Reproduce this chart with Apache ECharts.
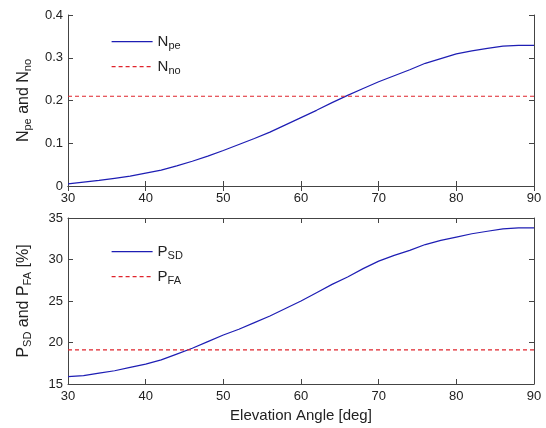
<!DOCTYPE html>
<html><head><meta charset="utf-8">
<script src="https://cdn.jsdelivr.net/npm/echarts@6/dist/echarts.min.js"></script>
<style>html,body{margin:0;padding:0;background:#fff}#c{width:546px;height:428px}</style>
</head><body><div id="c"></div>
<script>
const angles = [30,32,34,36,38,40,42,44,46,48,50,52,54,56,58,60,62,64,66,68,70,72,74,76,78,80,82,84,86,88,90];
const nPe = [0.005,0.009,0.013,0.018,0.023,0.030,0.037,0.047,0.058,0.070,0.083,0.097,0.111,0.126,0.143,0.160,0.177,0.195,0.212,0.228,0.244,0.258,0.272,0.287,0.298,0.309,0.316,0.322,0.327,0.329,0.329];
const nNo = 0.21;
const pSd = [15.9,16.0,16.3,16.6,17.0,17.4,17.9,18.6,19.3,20.1,20.9,21.6,22.4,23.2,24.1,25.0,26.0,27.0,27.9,28.9,29.8,30.5,31.1,31.8,32.3,32.7,33.1,33.4,33.7,33.8,33.8];
const pFa = 19.1;
const xTicks = [30,40,50,60,70,80,90];

const chart = echarts.init(document.getElementById('c'), null, {renderer:'canvas'});
const FONT = 'Liberation Sans, Arial, sans-serif';
const frame = '#444';
const rich = {
  b: {fontSize: 16, fontFamily: FONT, color: '#222'},
  s: {fontSize: 11, fontFamily: FONT, color: '#222', padding: [8,0,0,0]},
  lb: {fontSize: 15, fontFamily: FONT, color: '#222'},
  ls: {fontSize: 11, fontFamily: FONT, color: '#222', padding: [8,0,0,0]}
};
function xAx(gi, pos, labels, name) {
  return {type:'value', gridIndex: gi, position: pos, min:30, max:90, interval:10,
    axisLine:{show:true, lineStyle:{color:frame, width:1}},
    axisTick:{show:true, inside:true, length:5, lineStyle:{color:frame}},
    axisLabel:{show:labels, color:'#222', fontSize:13, fontFamily:FONT, margin:6},
    splitLine:{show:false},
    name: name || '', nameLocation:'middle', nameGap: 24,
    nameTextStyle:{fontSize:15, fontFamily:FONT, color:'#222'}};
}
function yAx(gi, pos, min, max, interval, labels, name, fmt) {
  return {type:'value', gridIndex: gi, position: pos, min, max, interval,
    axisLine:{show:true, lineStyle:{color:frame, width:1}},
    axisTick:{show:true, inside:true, length:5, lineStyle:{color:frame}},
    axisLabel:{show:labels, color:'#222', fontSize:13, fontFamily:FONT, margin:5, formatter: fmt},
    splitLine:{show:false},
    name: name || '', nameLocation:'middle', nameGap: 35, nameRotate: 90,
    nameTextStyle:{rich: rich}};
}
const blue = '#1e1eb4', red = '#e0242c';
const legendNames = {Npe:'{lb|N}{ls|pe}', Nno:'{lb|N}{ls|no}', PSD:'{lb|P}{ls|SD}', PFA:'{lb|P}{ls|FA}'};
const legendBase = {orient:'vertical', itemGap:8, itemWidth:41, itemHeight:19,
  itemStyle:{opacity:0}, lineStyle:{width:1.2}, formatter: n => legendNames[n], textStyle:{rich: rich}};
chart.setOption({
  animation:false,
  backgroundColor:'#fff',
  grid:[
    {left:68, right:12, top:15, height:171, show:false},
    {left:68, right:12, top:218, height:166, show:false}
  ],
  xAxis:[
    xAx(0,'bottom',true), xAx(0,'top',false),
    xAx(1,'bottom',true,'Elevation Angle [deg]'), xAx(1,'top',false)
  ],
  yAxis:[
    yAx(0,'left',0,0.4,0.1,true,'{b|N}{s|pe}{b| and N}{s|no}', v => v===0?'0':v.toFixed(1)),
    yAx(0,'right',0,0.4,0.1,false),
    yAx(1,'left',15,35,5,true,'{b|P}{s|SD}{b| and P}{s|FA}{b| [%]}'),
    yAx(1,'right',15,35,5,false)
  ],
  legend:[
    Object.assign({data:['Npe','Nno'], left:106, top:29}, legendBase),
    Object.assign({data:['PSD','PFA'], left:106, top:239}, legendBase)
  ],
  series:[
    {name:'Npe', type:'line', xAxisIndex:0, yAxisIndex:0, showSymbol:false, symbol:'none',
     data: angles.map((a,i)=>[a,nPe[i]]), lineStyle:{color:blue, width:1.2}, itemStyle:{color:blue}},
    {name:'Nno', type:'line', xAxisIndex:0, yAxisIndex:0, showSymbol:false, symbol:'none',
     data: angles.map(a=>[a,nNo]), lineStyle:{color:red, width:1.2, type:[4,3]}, itemStyle:{color:red}},
    {name:'PSD', type:'line', xAxisIndex:2, yAxisIndex:2, showSymbol:false, symbol:'none',
     data: angles.map((a,i)=>[a,pSd[i]]), lineStyle:{color:blue, width:1.2}, itemStyle:{color:blue}},
    {name:'PFA', type:'line', xAxisIndex:2, yAxisIndex:2, showSymbol:false, symbol:'none',
     data: angles.map(a=>[a,pFa]), lineStyle:{color:red, width:1.2, type:[4,3]}, itemStyle:{color:red}}
  ]
});
</script></body></html>
